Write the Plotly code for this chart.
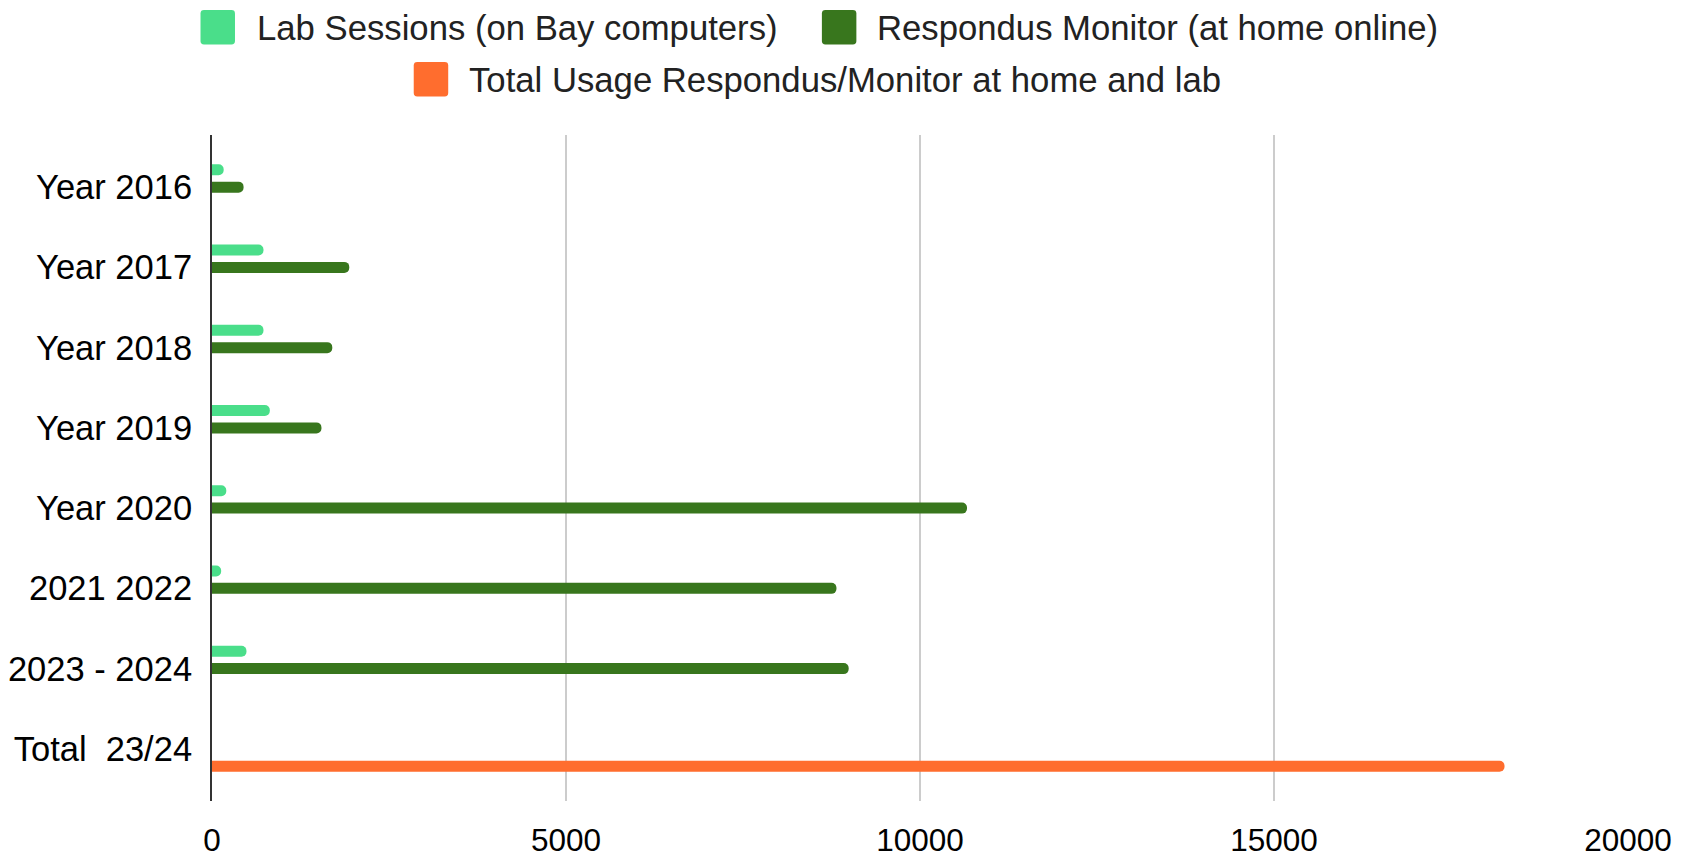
import plotly.graph_objects as go

categories = ["Year 2016", "Year 2017", "Year 2018", "Year 2019", "Year 2020",
              "2021 2022", "2023 - 2024", "Total\u00a0 23/24"]
lab_sessions = [165, 727, 727, 817, 202, 129, 487, None]
respondus_monitor = [446, 1939, 1699, 1546, 10664, 8820, 8993, None]
total_usage = [None, None, None, None, None, None, None, 18256]
x_ticks = [0, 5000, 10000, 15000, 20000]

series_names = ["Lab Sessions (on Bay computers)",
                "Respondus Monitor (at home online)",
                "Total Usage Respondus/Monitor at home and lab"]
series_colors = ["#4ade8a", "#38761d", "#ff6d2e"]

FONT = "Liberation Sans, Arial, sans-serif"
# the page places the figure 8px from the top-left corner of the window
W, H = 1682, 848
ML, MR, MT, MB = 203.5, 62, 127, 54.5
PW, PH = W - ML - MR, H - MT - MB

def px_x(px):
    return (px - ML) / PW

def px_y(py):
    return 1 - (py - MT) / PH

fig = go.Figure()
for vals, name, color in zip([lab_sessions, respondus_monitor, total_usage],
                             series_names, series_colors):
    fig.add_trace(go.Bar(y=categories, x=vals, orientation="h", name=name,
                         marker=dict(color=color, cornerradius=5, line=dict(width=0)),
                         showlegend=False))

# Legend (large rounded swatches, laid out as in the reference)
legend_items = [  # swatch left x, row center y, text left x
    (192.0, 19.2, 248.0),
    (813.6, 19.2, 868.0),
    (405.3, 71.2, 460.0),
]
SW = 34.5
R = 3.5
shapes = []
annotations = []
for (sx, cy, tx), name, color in zip(legend_items, series_names, series_colors):
    x0, x1 = sx, sx + SW
    y0, y1 = cy - SW / 2, cy + SW / 2
    rx, ry = R, R
    path = (f"M {px_x(x0 + rx)},{px_y(y0)} L {px_x(x1 - rx)},{px_y(y0)} "
            f"Q {px_x(x1)},{px_y(y0)} {px_x(x1)},{px_y(y0 + ry)} "
            f"L {px_x(x1)},{px_y(y1 - ry)} Q {px_x(x1)},{px_y(y1)} {px_x(x1 - rx)},{px_y(y1)} "
            f"L {px_x(x0 + rx)},{px_y(y1)} Q {px_x(x0)},{px_y(y1)} {px_x(x0)},{px_y(y1 - ry)} "
            f"L {px_x(x0)},{px_y(y0 + ry)} Q {px_x(x0)},{px_y(y0)} {px_x(x0 + rx)},{px_y(y0)} Z")
    shapes.append(dict(type="path", xref="paper", yref="paper", path=path,
                       fillcolor=color, line=dict(width=0), layer="above"))
    annotations.append(dict(xref="paper", yref="paper", x=px_x(tx), y=px_y(cy + 1),
                            xanchor="left", yanchor="middle", text=name, showarrow=False,
                            borderpad=0,
                            font=dict(family=FONT, size=34.7, color="#222222")))

fig.update_layout(
    width=W, height=H,
    margin=dict(l=ML, r=MR, t=MT, b=MB, pad=0, autoexpand=False),
    paper_bgcolor="white", plot_bgcolor="white",
    barmode="group", bargap=0.349, bargroupgap=0.368,
    font=dict(family=FONT, size=34, color="#000000"),
    showlegend=False,
    shapes=shapes,
    annotations=annotations,
    xaxis=dict(range=[0, 20000], tickvals=x_ticks, ticktext=[str(v) for v in x_ticks],
               showgrid=True, gridcolor="#cccccc", gridwidth=2,
               zeroline=False, showline=False, ticks="", automargin=False,
               ticklabelstandoff=17,
               tickfont=dict(size=31.5, color="#000000", family=FONT)),
    yaxis=dict(type="category", categoryorder="array", categoryarray=categories,
               range=[7.65, -0.65], showgrid=False, zeroline=False, automargin=False,
               showline=True, linecolor="#333333", linewidth=2, ticks="",
               ticklabelstandoff=11,
               tickfont=dict(size=34.5, color="#000000", family=FONT)),
)

fig.write_html("out.html")
